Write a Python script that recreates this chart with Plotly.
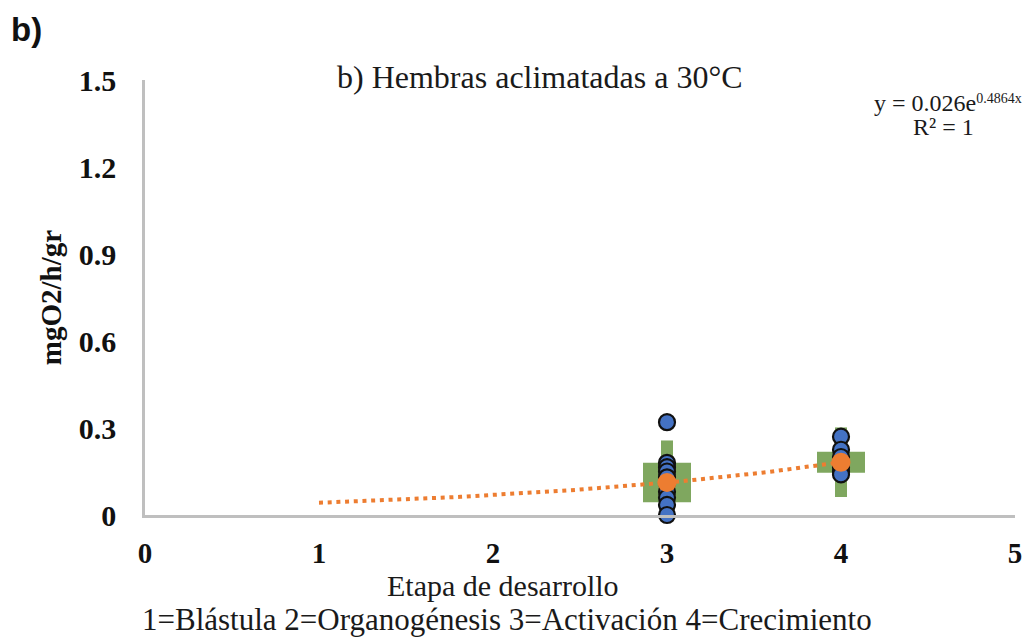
import numpy as np
import plotly.graph_objects as go

# Developmental stage (x) and oxygen consumption readings (mgO2/h/gr)
stage_3 = [3] * 10
rates_3 = [0.32, 0.18, 0.165, 0.15, 0.13, 0.11, 0.08, 0.06, 0.035, 0.0]
stage_4 = [4] * 7
rates_4 = [0.27, 0.225, 0.20, 0.18, 0.165, 0.15, 0.14]

# Stage means and dispersion (standard deviation and standard error)
mean_stages = [3, 4]
mean_rates = [0.112, 0.182]
sd_rates = [0.145, 0.12]
se_rates = [0.068, 0.036]

# Fitted exponential trend  y = a * exp(b * x)
trend_a = 0.026
trend_b = 0.4864
trend_x = np.linspace(1, 4, 60)

x_ticks = [0, 1, 2, 3, 4, 5]
y_ticks = [0, 0.3, 0.6, 0.9, 1.2, 1.5]
y_ticktext = ["0", "0.3", "0.6", "0.9", "1.2", "1.5"]

SERIF = "Liberation Serif"
GREEN = "#7fa75f"

fig = go.Figure()

# Wide bar: mean +/- standard error
fig.add_trace(go.Scatter(
    x=mean_stages, y=mean_rates, mode="markers",
    marker=dict(size=1, color="rgba(0,0,0,0)"),
    error_y=dict(type="data", array=se_rates, color=GREEN, thickness=48, width=0),
    showlegend=False, hoverinfo="skip",
))
# Narrow bar: mean +/- standard deviation
fig.add_trace(go.Scatter(
    x=mean_stages, y=mean_rates, mode="markers",
    marker=dict(size=1, color="rgba(0,0,0,0)"),
    error_y=dict(type="data", array=sd_rates, color=GREEN, thickness=12, width=0),
    showlegend=False, hoverinfo="skip",
))

# Individual measurements
fig.add_trace(go.Scatter(
    x=stage_3 + stage_4, y=rates_3 + rates_4, mode="markers",
    marker=dict(size=16, color="#4472c4", line=dict(color="#111111", width=2.2)),
    showlegend=False, cliponaxis=False,
))

# Exponential trend line
fig.add_trace(go.Scatter(
    x=trend_x, y=trend_a * np.exp(trend_b * trend_x), mode="lines",
    line=dict(color="#ed7d31", width=4, dash="4px,4.7px"),
    showlegend=False,
))

# Stage means
fig.add_trace(go.Scatter(
    x=mean_stages, y=mean_rates, mode="markers",
    marker=dict(size=19, color="#ed7d31", line=dict(width=0)),
    showlegend=False,
))

fig.update_layout(
    width=1033, height=640,
    margin=dict(l=145, r=18, t=80, b=125),
    paper_bgcolor="white", plot_bgcolor="white",
    font=dict(family=SERIF, color="#1a1a1a"),
    xaxis=dict(
        range=[0, 5], tickvals=x_ticks, showgrid=False, zeroline=False,
        showline=True, linecolor="#bfbfbf", linewidth=2.5,
        ticks="", ticklabelstandoff=10,
        tickfont=dict(family=SERIF, size=29, color="#111111", weight="bold"),
    ),
    yaxis=dict(
        range=[0, 1.5], tickvals=y_ticks, ticktext=y_ticktext,
        showgrid=False, zeroline=False,
        showline=True, linecolor="#bfbfbf", linewidth=2.5,
        ticks="", ticklabelstandoff=20,
        tickfont=dict(family=SERIF, size=30, color="#111111", weight="bold"),
        title=dict(text="mgO2/h/gr", standoff=9,
                   font=dict(family=SERIF, size=29, color="#111111", weight="bold")),
    ),
    annotations=[
        dict(text="<b>b)</b>", xref="paper", yref="paper", x=-136 / 870, y=1 + 50 / 435,
             xanchor="left", yanchor="middle", showarrow=False,
             font=dict(family="Liberation Sans", size=33, color="#111111")),
        dict(text="b) Hembras aclimatadas a 30°C", xref="paper", yref="paper",
             x=(540 - 145) / 870, y=1 + 3 / 435, xanchor="center", yanchor="middle",
             showarrow=False, font=dict(family=SERIF, size=32, color="#1a1a1a")),
        dict(text="y = 0.026e<span style='font-size:20px'><sup>0.4864x</sup></span>",
             xref="paper", yref="paper",
             x=(948 - 145) / 870, y=(515 - 103) / 435, xanchor="center", yanchor="middle",
             showarrow=False, font=dict(family=SERIF, size=24, color="#1a1a1a")),
        dict(text="R² = 1", xref="paper", yref="paper",
             x=(943 - 145) / 870, y=(515 - 127) / 435, xanchor="center", yanchor="middle",
             showarrow=False, font=dict(family=SERIF, size=24, color="#1a1a1a")),
        dict(text="Etapa de desarrollo", xref="paper", yref="paper",
             x=(503 - 145) / 870, y=-(585 - 515) / 435, xanchor="center", yanchor="middle",
             showarrow=False, font=dict(family=SERIF, size=30, color="#1a1a1a")),
        dict(text="1=Blástula 2=Organogénesis 3=Activación 4=Crecimiento", xref="paper",
             yref="paper", x=(507 - 145) / 870, y=-(619 - 515) / 435,
             xanchor="center", yanchor="middle",
             showarrow=False, font=dict(family=SERIF, size=31, color="#1a1a1a")),
    ],
)

fig.write_html("out.html")
